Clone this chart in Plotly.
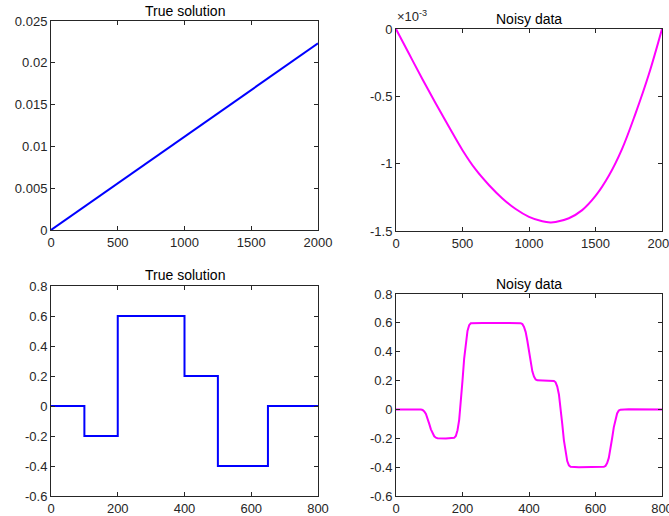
import plotly.graph_objects as go

# ---- data ----
# Top-left: true solution (linear)
tl_x = [0, 500, 1000, 1500, 2000]
tl_y = [0.0, 0.00558, 0.01116, 0.01675, 0.02233]

# Top-right: noisy data (values read in units of 1e-3)
tr_x = [0, 100, 200, 300, 400, 500, 600, 700, 800, 900, 1000, 1100, 1160,
        1200, 1300, 1400, 1500, 1600, 1700, 1800, 1900, 2000]
tr_y_e3 = [0.0, -0.188, -0.375, -0.555, -0.73, -0.90, -1.045, -1.16, -1.258, -1.337,
           -1.395, -1.428, -1.436, -1.433, -1.405, -1.345, -1.24, -1.09, -0.89,
           -0.63, -0.34, 0.0]
tr_y = [v * 1e-3 for v in tr_y_e3]

# Bottom-left: piecewise constant true solution
bl_x = [0, 100, 200, 400, 500, 650, 800]
bl_y = [0.0, -0.2, 0.6, 0.2, -0.4, 0.0, 0.0]

# Bottom-right: blurred noisy data (readings)
br_x = [0, 50,
        75, 80, 85, 90, 95, 100, 105, 110, 115, 120, 125,
        150,
        175, 180, 185, 190, 195, 200, 205, 210, 215, 220, 225,
        260, 300, 340,
        375, 380, 385, 390, 395, 400, 405, 410, 415, 420, 425,
        450,
        475, 480, 485, 490, 495, 500, 505, 510, 515, 520, 525,
        550, 575, 600,
        625, 630, 635, 640, 645, 650, 655, 660, 665, 670, 675,
        700, 750, 800]
br_y = [0.0, 0.001,
        -0.001, -0.004, -0.014, -0.032, -0.062, -0.100, -0.138, -0.168, -0.186, -0.196, -0.199,
        -0.201,
        -0.197, -0.184, -0.144, -0.072, 0.048, 0.200, 0.352, 0.472, 0.544, 0.584, 0.597,
        0.599, 0.601, 0.599,
        0.598, 0.592, 0.572, 0.536, 0.476, 0.400, 0.324, 0.264, 0.228, 0.208, 0.202,
        0.199,
        0.197, 0.188, 0.158, 0.104, 0.014, -0.100, -0.214, -0.304, -0.358, -0.388, -0.397,
        -0.401, -0.399, -0.401,
        -0.398, -0.392, -0.372, -0.336, -0.276, -0.200, -0.124, -0.064, -0.028, -0.008, -0.002,
        0.001, -0.001, 0.0]

titles = ["True solution", "Noisy data", "True solution", "Noisy data"]

# ---- figure ----
W, H = 669, 516
font_family = "Liberation Sans, Arial, sans-serif"
txt_col = "#262626"


def px_x(p):
    return p / W


def px_y(p):
    return 1 - p / H


fig = go.Figure()

fig.add_trace(go.Scatter(x=tl_x, y=tl_y, mode="lines", line=dict(color="#0000ff", width=2),
                         xaxis="x", yaxis="y", showlegend=False))
fig.add_trace(go.Scatter(x=tr_x, y=tr_y, mode="lines", line=dict(color="#ff00ff", width=2, shape="spline", smoothing=1),
                         xaxis="x2", yaxis="y2", showlegend=False))
fig.add_trace(go.Scatter(x=bl_x, y=bl_y, mode="lines", line=dict(color="#0000ff", width=2, shape="hv"),
                         xaxis="x3", yaxis="y3", showlegend=False))
fig.add_trace(go.Scatter(x=br_x, y=br_y, mode="lines", line=dict(color="#ff00ff", width=2),
                         xaxis="x4", yaxis="y4", showlegend=False))

boxes = {
    1: (51, 318, 21, 230),
    2: (396, 662, 29, 231),
    3: (51, 318, 286, 496),
    4: (396, 662, 294, 496),
}

common = dict(showline=True, linecolor=txt_col, linewidth=1, mirror="ticks",
              ticks="inside", ticklen=4, tickcolor=txt_col, showgrid=False,
              zeroline=False, automargin=False, ticklabeloverflow="allow",
              tickfont=dict(family=font_family, size=13, color=txt_col))

layout = dict(width=W, height=H, margin=dict(l=0, r=0, t=0, b=0, autoexpand=False),
              plot_bgcolor="white", paper_bgcolor="white", showlegend=False,
              template="none")

xranges = {1: [0, 2000], 2: [0, 2000], 3: [0, 800], 4: [0, 800]}
yranges = {1: [0, 0.025], 2: [-0.0015, 0], 3: [-0.6, 0.8], 4: [-0.6, 0.8]}
xticks = {1: [0, 500, 1000, 1500, 2000], 2: [0, 500, 1000, 1500, 2000],
          3: [0, 200, 400, 600, 800], 4: [0, 200, 400, 600, 800]}

for i in range(1, 5):
    l, r, t, b = boxes[i]
    sx = "" if i == 1 else str(i)
    xa = dict(common, domain=[px_x(l), px_x(r)], range=xranges[i], anchor="y" + sx,
              tickvals=xticks[i], ticktext=[str(v) for v in xticks[i]])
    ya = dict(common, domain=[px_y(b), px_y(t)], range=yranges[i], anchor="x" + sx)
    if i == 1:
        tv = [0, 0.005, 0.01, 0.015, 0.02, 0.025]
        ya.update(tickvals=tv, ticktext=["0", "0.005", "0.01", "0.015", "0.02", "0.025"])
    elif i == 2:
        tv = [0, -0.0005, -0.001, -0.0015]
        ya.update(tickvals=tv, ticktext=["0", "-0.5", "-1", "-1.5"])
    else:
        tv = [-0.6, -0.4, -0.2, 0, 0.2, 0.4, 0.6, 0.8]
        ya.update(tickvals=tv, ticktext=["-0.6", "-0.4", "-0.2", "0", "0.2", "0.4", "0.6", "0.8"])
    layout["xaxis" + sx] = xa
    layout["yaxis" + sx] = ya

title_pos = {1: ((51 + 318) / 2, 10.5), 2: ((396 + 662) / 2, 19),
             3: ((51 + 318) / 2, 275), 4: ((396 + 662) / 2, 284)}
annotations = []
for i in range(1, 5):
    cx, cy = title_pos[i]
    annotations.append(dict(text=titles[i - 1], x=px_x(cx), y=px_y(cy), xref="paper", yref="paper",
                            xanchor="center", yanchor="middle", showarrow=False,
                            font=dict(family=font_family, size=14, color="black")))
annotations.append(dict(text="×10<sup>-3</sup>", x=px_x(395), y=px_y(26), xref="paper", yref="paper",
                        xanchor="left", yanchor="bottom", showarrow=False,
                        font=dict(family=font_family, size=13, color=txt_col)))
layout["annotations"] = annotations

fig.update_layout(**layout)
fig.write_html("out.html", config={"displayModeBar": False},
               post_script="document.body.style.margin='0';document.body.style.overflow='hidden';")
